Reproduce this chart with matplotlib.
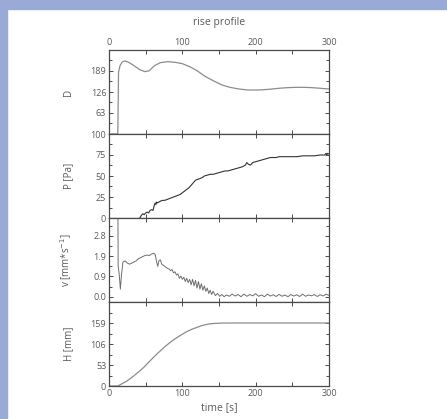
import numpy as np
import matplotlib.pyplot as plt
from matplotlib.patches import Rectangle
from matplotlib.ticker import MultipleLocator, FixedLocator, FormatStrFormatter

plt.rcParams['font.family'] = ['Open Sans', 'DejaVu Sans']

# D
t_D = [0, 11.5, 12, 13, 15, 18, 21, 25, 30, 36, 42, 49, 55, 62, 70, 80, 90, 100, 110,
       120, 131, 142, 154, 165, 177, 190, 204, 218, 231, 243, 255, 266, 277, 289, 300]
D = [0, 0, 0, 185, 205, 216, 219, 217, 211, 202, 193, 187, 190, 205, 214, 217, 215, 211, 202,
     190, 173, 160, 147, 140, 135, 132, 132, 134, 137, 139, 140, 140, 139, 137, 135]

# P [Pa]
t_P = [42, 44, 46, 48, 50, 52, 54, 56, 58, 60, 62, 63, 64, 65, 66, 68, 70, 73, 76, 79,
       82, 85, 88, 91, 94, 97, 100, 103, 106, 109, 112, 115, 118, 121, 124, 127, 130, 134,
       138, 142, 146, 150, 154, 158, 162, 166, 170, 174, 178, 182, 186, 188, 190, 193, 196,
       200, 204, 208, 212, 216, 220, 224, 228, 232, 240, 248, 256, 264, 272, 280, 288, 294,
       296, 297, 298, 300]
P = [0, 3, 5, 4, 6, 7, 6, 9, 10, 9, 16, 18, 16, 19, 18, 19, 20, 21, 21, 22,
     23, 24, 25, 26, 27, 28, 30, 32, 34, 36, 39, 42, 45, 46, 47, 48, 50, 51,
     52, 52, 53, 54, 55, 56, 56, 57, 58, 59, 60, 61, 63, 66, 64, 63, 66,
     67, 68, 69, 70, 71, 72, 72, 72, 73, 73, 73, 73, 74, 74, 74, 75, 75,
     77, 75, 77, 76]

# v [mm/s]
t_v = [12, 12.5, 13, 14, 15.5, 17, 19, 22, 25, 28, 31, 34, 37, 40, 43, 46, 49, 52, 55, 58,
       61, 63, 65, 66.5, 68, 70, 72, 74, 76, 78, 80, 82, 84, 86, 88, 90, 92, 94, 96, 98,
       100, 102, 104, 106, 108, 110, 112, 114, 116, 118, 120, 122, 124, 126, 128, 130, 132,
       134, 136, 138, 140, 142, 145, 148, 151, 154, 157, 160, 164, 168, 172, 176, 180, 184,
       188, 192, 196, 200, 204, 208, 212, 216, 220, 224, 228, 232, 236, 240, 244, 248, 252,
       256, 260, 264, 268, 272, 276, 280, 284, 288, 292, 296, 300]
v = [5.0, 1.4, 1.3, 1.0, 0.35, 1.0, 1.6, 1.65, 1.55, 1.5, 1.55, 1.6, 1.65, 1.75, 1.8, 1.85, 1.9, 1.92, 1.9, 1.97,
     2.0, 1.95, 1.6, 1.4, 1.65, 1.7, 1.5, 1.45, 1.4, 1.35, 1.3, 1.28, 1.2, 1.25, 1.1, 1.15, 1.0, 1.05, 0.85, 0.95,
     0.8, 0.9, 0.7, 0.85, 0.65, 0.8, 0.55, 0.8, 0.5, 0.75, 0.4, 0.7, 0.35, 0.6, 0.3, 0.5, 0.25,
     0.4, 0.15, 0.3, 0.1, 0.25, 0.05, 0.15, 0.02, 0.1, 0.0, 0.08, 0.02, 0.12, 0.03, 0.1, 0.0, 0.12,
     0.02, 0.1, 0.04, 0.14, 0.02, 0.08, 0.0, 0.12, 0.03, 0.09, 0.01, 0.11, 0.02, 0.08, 0.0, 0.1, 0.03,
     0.09, 0.01, 0.12, 0.02, 0.08, 0.04, 0.1, 0.01, 0.09, 0.03, 0.12, 0.06]

# H [mm]
t_H = [0, 12, 14, 18, 24, 30, 36, 42, 48, 54, 60, 66, 72, 78, 84, 90, 96, 102, 108, 114,
       120, 126, 132, 138, 144, 150, 160, 180, 200, 240, 300]
H = [0, 0, 2, 6, 12, 20, 29, 38, 48, 60, 71, 82, 92, 102, 111, 119, 126, 133, 139, 144,
     148, 152, 155, 157, 158, 158.5, 159, 159, 159, 159, 159]

txt = '#5a5a5a'
fig = plt.figure(figsize=(4.47, 4.19), dpi=100)
fig.patches.append(Rectangle((0, 1 - 9 / 419), 1, 9 / 419, transform=fig.transFigure,
                             color='#9aaad6', zorder=0))
fig.patches.append(Rectangle((0, 0), 7 / 447, 1, transform=fig.transFigure,
                             color='#9aaad6', zorder=0))

gs = fig.add_gridspec(4, 1, left=109 / 447, right=329 / 447, top=1 - 50 / 419,
                      bottom=1 - 386 / 419, hspace=0)
axs = [fig.add_subplot(gs[i]) for i in range(4)]

axs[0].plot(t_D, D, color='#8c8c8c', lw=0.9)
axs[1].plot(t_P, P, color='#333333', lw=0.8)
axs[2].plot(t_v, v, color='#6e6e6e', lw=0.7)
axs[3].plot(t_H, H, color='#8c8c8c', lw=0.9)

axs[0].set_ylim(0, 252)
axs[0].yaxis.set_major_locator(FixedLocator([63, 126, 189]))
axs[0].yaxis.set_minor_locator(MultipleLocator(31.5))
axs[0].set_ylabel('D')

axs[1].set_ylim(0, 100)
axs[1].yaxis.set_major_locator(MultipleLocator(25))
axs[1].yaxis.set_minor_locator(MultipleLocator(12.5))
axs[1].set_ylabel('P [Pa]')

axs[2].set_ylim(-0.244, 3.63)
axs[2].yaxis.set_major_locator(FixedLocator([0, 0.9333, 1.8667, 2.8]))
axs[2].yaxis.set_minor_locator(FixedLocator([0.4667, 1.4, 2.3333, 3.2667]))
axs[2].yaxis.set_major_formatter(FormatStrFormatter('%.1f'))
axs[2].set_ylabel('v [mm*s$^{-1}$]')

axs[3].set_ylim(0, 212)
axs[3].yaxis.set_major_locator(FixedLocator([0, 53, 106, 159]))
axs[3].yaxis.set_minor_locator(MultipleLocator(26.5))
axs[3].set_ylabel('H [mm]')

for i, ax in enumerate(axs):
    ax.set_xlim(0, 300)
    ax.xaxis.set_major_locator(MultipleLocator(100))
    ax.xaxis.set_minor_locator(MultipleLocator(50))
    ax.tick_params(which='both', direction='in', top=True, right=True, colors='#4a4a4a',
                   labelcolor=txt, labelsize=6.5, width=0.7, pad=2)
    ax.tick_params(which='major', length=3)
    ax.tick_params(which='minor', length=2)
    ax.tick_params(axis='x', which='minor', length=3)
    ax.tick_params(labelbottom=(i == 3), labeltop=(i == 0))
    for s in ax.spines.values():
        s.set_color('#4a4a4a')
        s.set_linewidth(0.9)
    ax.yaxis.label.set_color(txt)
    ax.yaxis.label.set_size(7)
    ax.yaxis.set_label_coords(-0.16, 0.5)

axs[3].set_xlabel('time [s]', color=txt, fontsize=7.5, labelpad=3)
fig.text(219 / 447, 1 - 22 / 419, 'rise profile', color=txt, fontsize=7.5, ha='center', va='center')

plt.savefig('out.png', dpi=100)
plt.close()
